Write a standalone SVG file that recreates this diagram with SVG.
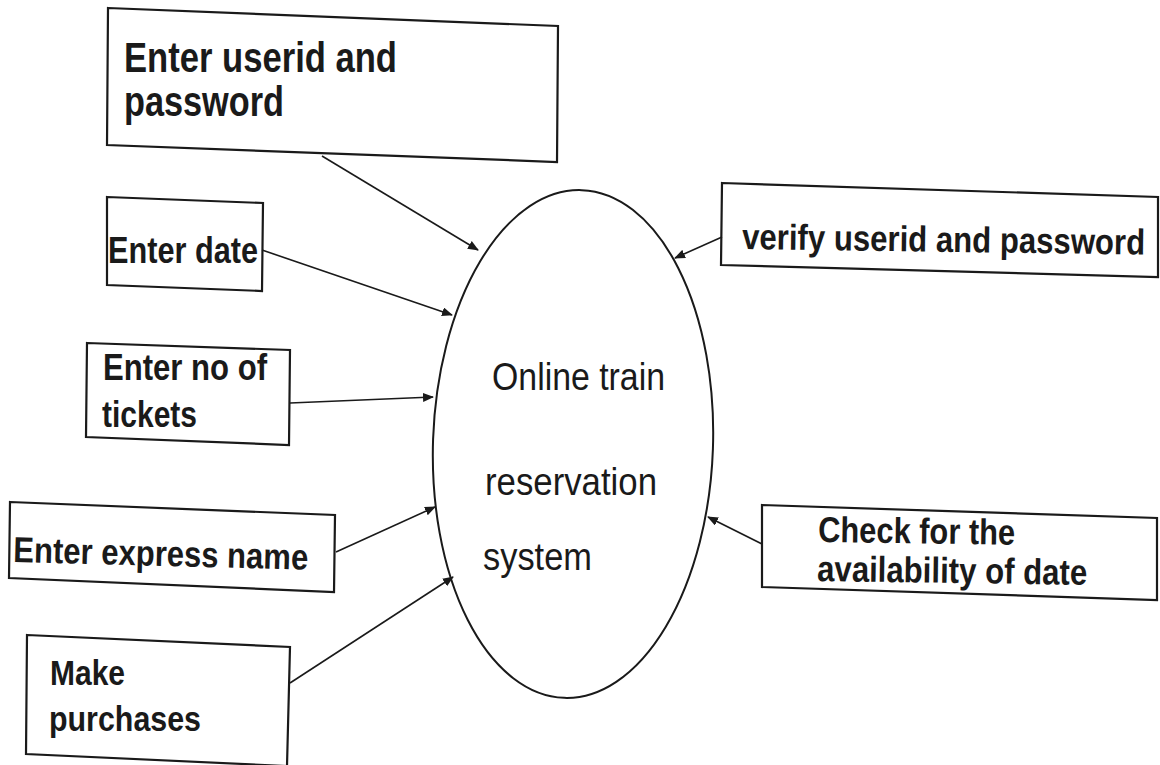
<svg xmlns="http://www.w3.org/2000/svg" width="1160" height="765" viewBox="0 0 1160 765">
<style>
.box{fill:#fff;stroke:#1a1a1a;stroke-width:2.2;stroke-linejoin:miter}
.lbl{font-family:"Liberation Sans",Arial,sans-serif;font-weight:bold;fill:#1a1a1a}
.ctr{font-family:"Liberation Sans",Arial,sans-serif;fill:#1a1a1a}
.con{stroke:#1a1a1a;stroke-width:1.6;fill:none;marker-end:url(#ah)}
</style>
<defs>
<marker id="ah" markerWidth="11" markerHeight="9" refX="10" refY="4.5" orient="auto" markerUnits="userSpaceOnUse">
<path d="M0,0 L11,4.5 L0,9 Z" fill="#1a1a1a"/>
</marker>
</defs>
<rect width="1160" height="765" fill="#fff"/>

<g id="process">
<ellipse cx="573" cy="444" rx="140" ry="254" transform="rotate(2 573 444)" fill="#fff" stroke="#1a1a1a" stroke-width="2"/>
<text class="ctr" x="492" y="390" font-size="38" textLength="173" lengthAdjust="spacingAndGlyphs">Online train</text>
<text class="ctr" x="485" y="495" font-size="38" textLength="172" lengthAdjust="spacingAndGlyphs">reservation</text>
<text class="ctr" x="483" y="570" font-size="38" textLength="109" lengthAdjust="spacingAndGlyphs">system</text>
</g>

<g id="n-userid">
<polygon class="box" points="108,8 558,26 557,162 107,145"/>
<text class="lbl" x="124" y="72" font-size="42" textLength="273" lengthAdjust="spacingAndGlyphs">Enter userid and</text>
<text class="lbl" x="124" y="116" font-size="42" textLength="160" lengthAdjust="spacingAndGlyphs">password</text>
</g>

<g id="n-date">
<polygon class="box" points="107,197 263,203 262,291 107,285"/>
<text class="lbl" x="108" y="263" font-size="37" textLength="150" lengthAdjust="spacingAndGlyphs">Enter date</text>
</g>

<g id="n-tickets">
<polygon class="box" points="87,343 290,350 289,445 86,437"/>
<text class="lbl" x="103" y="380" font-size="36" textLength="164" lengthAdjust="spacingAndGlyphs">Enter no of</text>
<text class="lbl" x="102" y="427" font-size="36" textLength="95" lengthAdjust="spacingAndGlyphs">tickets</text>
</g>

<g id="n-express">
<polygon class="box" points="10,502 335,515 334,592 9,578"/>
<text class="lbl" x="13" y="562" font-size="36" textLength="295" lengthAdjust="spacingAndGlyphs" transform="rotate(1.5 13 562)">Enter express name</text>
</g>

<g id="n-purchases">
<polygon class="box" points="27,635 290,647 287,766 26,754"/>
<text class="lbl" x="50" y="685" font-size="35" textLength="75" lengthAdjust="spacingAndGlyphs">Make</text>
<text class="lbl" x="49" y="731" font-size="35" textLength="152" lengthAdjust="spacingAndGlyphs">purchases</text>
</g>

<g id="n-verify">
<polygon class="box" points="722,183 1158,197 1158,277 721,265"/>
<text class="lbl" x="0" y="0" font-size="36" transform="translate(742 249) rotate(0.8) scale(0.865 1)">verify userid and password</text>
</g>

<g id="n-check">
<polygon class="box" points="762,505 1157,518 1157,600 762,587"/>
<text class="lbl" x="818" y="542" font-size="36" textLength="197" lengthAdjust="spacingAndGlyphs" transform="rotate(0.8 818 542)">Check for the</text>
<text class="lbl" x="817" y="581" font-size="36" textLength="270" lengthAdjust="spacingAndGlyphs" transform="rotate(0.8 817 581)">availability of date</text>
</g>

<g id="connectors">
<line class="con" x1="322" y1="156" x2="478" y2="250"/>
<line class="con" x1="262" y1="250" x2="452" y2="315"/>
<line class="con" x1="290" y1="403" x2="433" y2="397"/>
<line class="con" x1="336" y1="552" x2="435" y2="507"/>
<line class="con" x1="290" y1="683" x2="453" y2="577"/>
<line class="con" x1="722" y1="237" x2="675" y2="258"/>
<line class="con" x1="762" y1="544" x2="708" y2="517"/>
</g>
</svg>
